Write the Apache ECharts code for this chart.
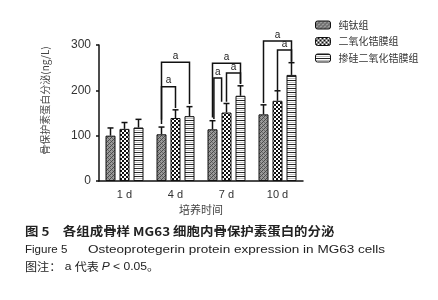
<!DOCTYPE html>
<html><head><meta charset="utf-8">
<script src="https://cdn.jsdelivr.net/npm/echarts@6/dist/echarts.min.js"></script>
<style>html,body{margin:0;padding:0;background:#fff}#c{width:438px;height:300px}</style>
</head><body><div id="c"></div>
<script>
const categories = ['1 d', '4 d', '7 d', '10 d'];
const groupNames = ['纯钛组', '二氧化锆膜组', '掺硅二氧化锆膜组'];
const tiMean = [100, 103, 114, 147];
const tiErr = [17, 16, 19, 21];
const zrMean = [115, 139, 151, 177];
const zrErr = [14, 18, 20, 22];
const siMean = [118, 143, 188, 234];
const siErr = [18, 21, 22, 27];
const yTicks = [0, 100, 200, 300];
const yName = '骨保护素蛋白分泌(ng/L)';
const xName = '培养时间';
// significance brackets: [category, fromBarSlot, toBarSlot, topValue, leftBottomValue, rightBottomValue, label]
const brackets = [
  [1, 0, 2, 262, 135, 170, 'a'],
  [1, 0, 1, 208, 126, 161, 'a'],
  [2, 0, 2, 260, 140, 215, 'a'],
  [2, 0.1, 0.65, 227, 137, 175, 'a'],
  [2, 1, 2, 238, 175, 214, 'a'],
  [3, 0, 2, 309, 172, 263, 'a'],
  [3, 1, 2, 289, 201, 263, 'a']
];

function makePattern(w, h, draw) {
  const c = document.createElement('canvas');
  c.width = w; c.height = h;
  const ctx = c.getContext('2d');
  draw(ctx);
  return { image: c, repeat: 'repeat' };
}
const pat1 = makePattern(4, 4, ctx => {
  ctx.fillStyle = '#9a9a9a'; ctx.fillRect(0, 0, 4, 4);
  ctx.fillStyle = '#4a4a4a';
  ctx.fillRect(0, 0, 1, 1); ctx.fillRect(2, 2, 1, 1); ctx.fillRect(1, 3, 1, 1); ctx.fillRect(3, 1, 1, 1);
  ctx.fillStyle = '#6a6a6a'; ctx.fillRect(2, 0, 1, 1); ctx.fillRect(0, 2, 1, 1);
});
const pat2 = makePattern(4, 4, ctx => {
  ctx.fillStyle = '#111'; ctx.fillRect(0, 0, 4, 4);
  ctx.fillStyle = '#fff';
  ctx.fillRect(0, 0, 2, 2); ctx.fillRect(2, 2, 2, 2);
});
const pat3 = makePattern(4, 4, ctx => {
  ctx.fillStyle = '#fff'; ctx.fillRect(0, 0, 4, 4);
  ctx.fillStyle = '#222'; ctx.fillRect(0, 0, 4, 1);
  ctx.fillStyle = '#bbb'; ctx.fillRect(0, 2, 4, 1);
});

const BAR_W = 10, SLOT = 14;
const means = [tiMean, zrMean, siMean];
const errs = [tiErr, zrErr, siErr];
const pats = [pat1, pat2, pat3];

const series = [];
for (let s = 0; s < 3; s++) {
  series.push({
    name: groupNames[s], type: 'bar', data: means[s],
    barWidth: BAR_W, barGap: '40%',
    itemStyle: { color: pats[s], borderColor: '#111', borderWidth: 1 },
    z: 2
  });
}
for (let s = 0; s < 3; s++) {
  series.push({
    type: 'custom', z: 3, silent: true,
    data: means[s].map((m, i) => [i, m, errs[s][i]]),
    renderItem: (params, api) => {
      const c = api.coord([api.value(0), api.value(1)]);
      const t = api.coord([api.value(0), api.value(1) + api.value(2)]);
      const x = c[0] + (s - 1) * SLOT;
      return { type: 'group', children: [
        { type: 'line', shape: { x1: x, y1: c[1], x2: x, y2: t[1] }, style: { stroke: '#111', lineWidth: 1.5 } },
        { type: 'line', shape: { x1: x - 3, y1: t[1], x2: x + 3, y2: t[1] }, style: { stroke: '#111', lineWidth: 1.5 } }
      ] };
    }
  });
}
series.push({
  type: 'custom', z: 4, silent: true, clip: false,
  data: brackets,
  renderItem: (params, api) => {
    const cat = api.value(0);
    const top = api.coord([cat, api.value(3)]);
    const lb = api.coord([cat, api.value(4)]);
    const rb = api.coord([cat, api.value(5)]);
    const xl = top[0] + (api.value(1) - 1) * SLOT;
    const xr = top[0] + (api.value(2) - 1) * SLOT;
    return { type: 'group', children: [
      { type: 'polyline', shape: { points: [[xl, lb[1]], [xl, top[1]], [xr, top[1]], [xr, rb[1]]] },
        style: { stroke: '#111', lineWidth: 1.5, fill: null } },
      { type: 'text', style: { text: brackets[params.dataIndex][6], x: (xl + xr) / 2, y: top[1] - 1,
        textAlign: 'center', textVerticalAlign: 'bottom', fontSize: 10, fill: '#222', fontFamily: 'Liberation Sans, Arial' } }
    ] };
  }
});

const chart = echarts.init(document.getElementById('c'), null, { renderer: 'canvas' });
chart.setOption({
  animation: false,
  textStyle: { fontFamily: 'Liberation Sans, Arial, Noto Sans CJK SC' },
  grid: { left: 99, right: 135, top: 45, bottom: 119 },
  legend: {
    orient: 'vertical', left: 315, top: 19, itemWidth: 15, itemHeight: 8, itemGap: 4.5, padding: 0,
    data: groupNames,
    textStyle: { fontSize: 10, color: '#333', fontFamily: 'Noto Sans CJK SC', lineHeight: 12, padding: [0, 0, 0, 3] },
    itemStyle: { borderColor: '#111', borderWidth: 1 }
  },
  xAxis: {
    type: 'category', data: categories,
    axisLine: { lineStyle: { color: '#111', width: 1.5 } },
    axisTick: { alignWithLabel: true, length: 3, lineStyle: { color: '#111', width: 1.5 } },
    axisLabel: { fontSize: 11, color: '#333', margin: 8 },
    name: xName, nameLocation: 'middle', nameGap: 23,
    nameTextStyle: { fontSize: 11, color: '#444', fontFamily: 'Noto Sans CJK SC' }
  },
  yAxis: {
    type: 'value', min: yTicks[0], max: yTicks[yTicks.length - 1], interval: 100,
    axisLine: { show: true, lineStyle: { color: '#111', width: 1.5 } },
    axisTick: { show: true, length: 3, lineStyle: { color: '#111', width: 1.5 } },
    splitLine: { show: false },
    axisLabel: { fontSize: 12, color: '#333', margin: 8 }
  },
  series: series,
  graphic: [
    { type: 'text', x: 45, y: 100.5, rotation: Math.PI / 2,
      style: { text: yName, fontSize: 10, fill: '#444', fontFamily: 'Noto Sans CJK SC', textAlign: 'center', textVerticalAlign: 'middle' } },
    { type: 'text', x: 25, y: 231.5, scaleX: 1.12,
      style: { text: '图 5　各组成骨样 MG63 细胞内骨保护素蛋白的分泌', fontSize: 12, fontWeight: 'bold', fill: '#222', fontFamily: 'Noto Sans CJK SC', textVerticalAlign: 'middle' } },
    { type: 'text', x: 25, y: 250, scaleX: 1.05,
      style: { text: 'Figure 5', fontSize: 11, fill: '#222', fontFamily: 'Liberation Sans, Arial', textVerticalAlign: 'middle' } },
    { type: 'text', x: 88, y: 250, scaleX: 1.23,
      style: { text: 'Osteoprotegerin protein expression in MG63 cells', fontSize: 11, fill: '#222', fontFamily: 'Liberation Sans, Arial', textVerticalAlign: 'middle' } },
    { type: 'text', x: 25, y: 267, scaleX: 1.1, style: {
      rich: { n: { fontSize: 11, fill: '#222', fontFamily: 'Noto Sans CJK SC' }, e: { fontSize: 11, fill: '#222', fontFamily: 'Liberation Sans' }, p: { fontSize: 11, fill: '#222', fontStyle: 'italic', fontFamily: 'Liberation Sans' } },
      text: '{n|图注：}{e| a }{n|代表 }{p|P}{e| < 0.05}{n|。}', textVerticalAlign: 'middle' } }
  ]
});
</script></body></html>
